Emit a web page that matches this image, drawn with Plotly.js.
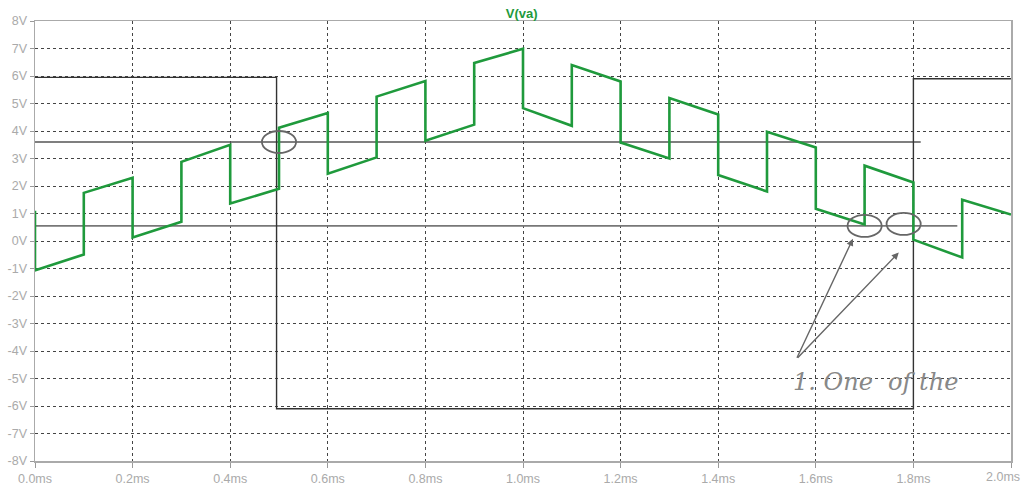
<!DOCTYPE html>
<html>
<head>
<meta charset="utf-8">
<script src="https://cdn.plot.ly/plotly-3.0.1.min.js"></script>
<style>html,body{margin:0;padding:0;background:#fff;}#chart{width:1023px;height:486px;}</style>
</head>
<body>
<div id="chart"></div>
<script>
// Simulated waveform V(va): time (ms) and voltage (V), duplicated times mark the jumps
const timeMs = [0,0,0.1,0.1,0.2,0.2,0.3,0.3,0.4,0.4,0.5,0.5,0.6,0.6,0.7,0.7,0.8,0.8,0.9,0.9,1.0,1.0,1.1,1.1,1.2,1.2,1.3,1.3,1.4,1.4,1.5,1.5,1.6,1.6,1.7,1.7,1.8,1.8,1.9,1.9,2.0];
const vva = [1.1,-1.07,-0.49,1.75,2.3,0.13,0.7,2.88,3.5,1.36,1.9,4.12,4.65,2.45,3.04,5.25,5.82,3.65,4.23,6.47,6.99,4.83,4.19,6.4,5.8,3.58,3.0,5.2,4.6,2.4,1.8,3.97,3.4,1.17,0.6,2.74,2.13,0.05,-0.6,1.5,0.96];

// Hand-drawn pencil square wave
const penTime = [0,0.495,0.495,1.8,1.8,2.0];
const penVolt = [5.95,5.95,-6.1,-6.1,5.9,5.9];

// Hand-drawn horizontal reference levels
const refUpperTime = [0,1.815];
const refUpperVolt = [3.6,3.6];
const refLowerTime = [0,1.89];
const refLowerVolt = [0.55,0.55];

// Axis ticks (the last label sits at the right edge and is drawn separately so it stays inside)
const xTickVals = [0,0.2,0.4,0.6,0.8,1.0,1.2,1.4,1.6,1.8,2.0];
const xTickText = ["0.0ms","0.2ms","0.4ms","0.6ms","0.8ms","1.0ms","1.2ms","1.4ms","1.6ms","1.8ms",""];
const xLastLabel = "2.0ms";
const yTickVals = [8,7,6,5,4,3,2,1,0,-1,-2,-3,-4,-5,-6,-7,-8];
const yTickText = ["8V","7V","6V","5V","4V","3V","2V","1V","0V","-1V","-2V","-3V","-4V","-5V","-6V","-7V","-8V"];

// Pencil circles (centre time, centre volt)
const circleTime = [0.5,1.7,1.78];
const circleVolt = [3.6,0.55,0.62];

// Pencil arrows: tail (near note) and head (near circles)
const arrowTailTime = [1.56,1.56];
const arrowTailVolt = [-4.3,-4.3];
const arrowHeadTime = [1.676,1.77];
const arrowHeadVolt = [0.08,-0.42];

const traces = [
  {x: refUpperTime, y: refUpperVolt, mode:'lines', line:{color:'#555', width:1.6}, hoverinfo:'skip'},
  {x: refLowerTime, y: refLowerVolt, mode:'lines', line:{color:'#777', width:1.6}, hoverinfo:'skip'},
  {x: penTime, y: penVolt, mode:'lines', line:{color:'#333', width:1.4}, hoverinfo:'skip'},
  {x: timeMs, y: vva, mode:'lines', line:{color:'#1f9a3c', width:2.6}, name:'V(va)'}
];

const shapes = circleTime.map((t,i)=>({
  type:'circle', xref:'x', yref:'y',
  x0: t-0.035, x1: t+0.035, y0: circleVolt[i]-0.4, y1: circleVolt[i]+0.4,
  line:{color:'#666', width:1.8}
}));

const axisFont = {family:'Liberation Sans, Arial, sans-serif', size:12.5, color:'#aaa'};

const annotations = arrowHeadTime.map((t,i)=>({
  xref:'x', yref:'y', x:t, y:arrowHeadVolt[i], ax:arrowTailTime[i], ay:arrowTailVolt[i],
  axref:'x', ayref:'y', text:'', showarrow:true, arrowhead:2, arrowsize:1,
  arrowwidth:1.4, arrowcolor:'#666', standoff:0, startstandoff:0
}));
annotations.push({xref:'paper', yref:'paper', x:0.775, y:0.18, xanchor:'left', yanchor:'middle',
   text:'<i>1. One  of the</i>', showarrow:false,
   font:{family:'DejaVu Serif, serif', size:24, color:'#888'}});
annotations.push({xref:'paper', yref:'paper', x:1, y:0, xshift:11, yshift:-7,
   xanchor:'right', yanchor:'top', text:xLastLabel, showarrow:false, font:axisFont});

const layout = {
  width:1023, height:486,
  margin:{l:35, r:12, t:21, b:25, pad:0},
  paper_bgcolor:'#fff', plot_bgcolor:'#fff',
  showlegend:false,
  title:{text:'<b>V(va)</b>', x:0.51, xanchor:'center', y:0.972, yanchor:'middle',
    font:{family:'Liberation Sans, Arial, sans-serif', size:13, color:'#1f9a3c'}},
  xaxis:{range:[0,2], tickvals:xTickVals, ticktext:xTickText, ticks:'outside', ticklen:5,
    tickcolor:'#999', showgrid:true, gridcolor:'#444', griddash:'dot', gridwidth:1,
    showline:true, linecolor:'#aaa', linewidth:1.5, mirror:true, zeroline:false,
    tickfont:axisFont},
  yaxis:{range:[-8,8], tickvals:yTickVals, ticktext:yTickText, ticks:'outside', ticklen:4,
    tickcolor:'#999', showgrid:true, gridcolor:'#444', griddash:'dot', gridwidth:1,
    showline:true, linecolor:'#aaa', linewidth:1.5, mirror:true, zeroline:false,
    tickfont:axisFont},
  shapes: shapes,
  annotations: annotations
};

Plotly.newPlot('chart', traces, layout, {displayModeBar:false, staticPlot:true});
</script>
</body>
</html>
